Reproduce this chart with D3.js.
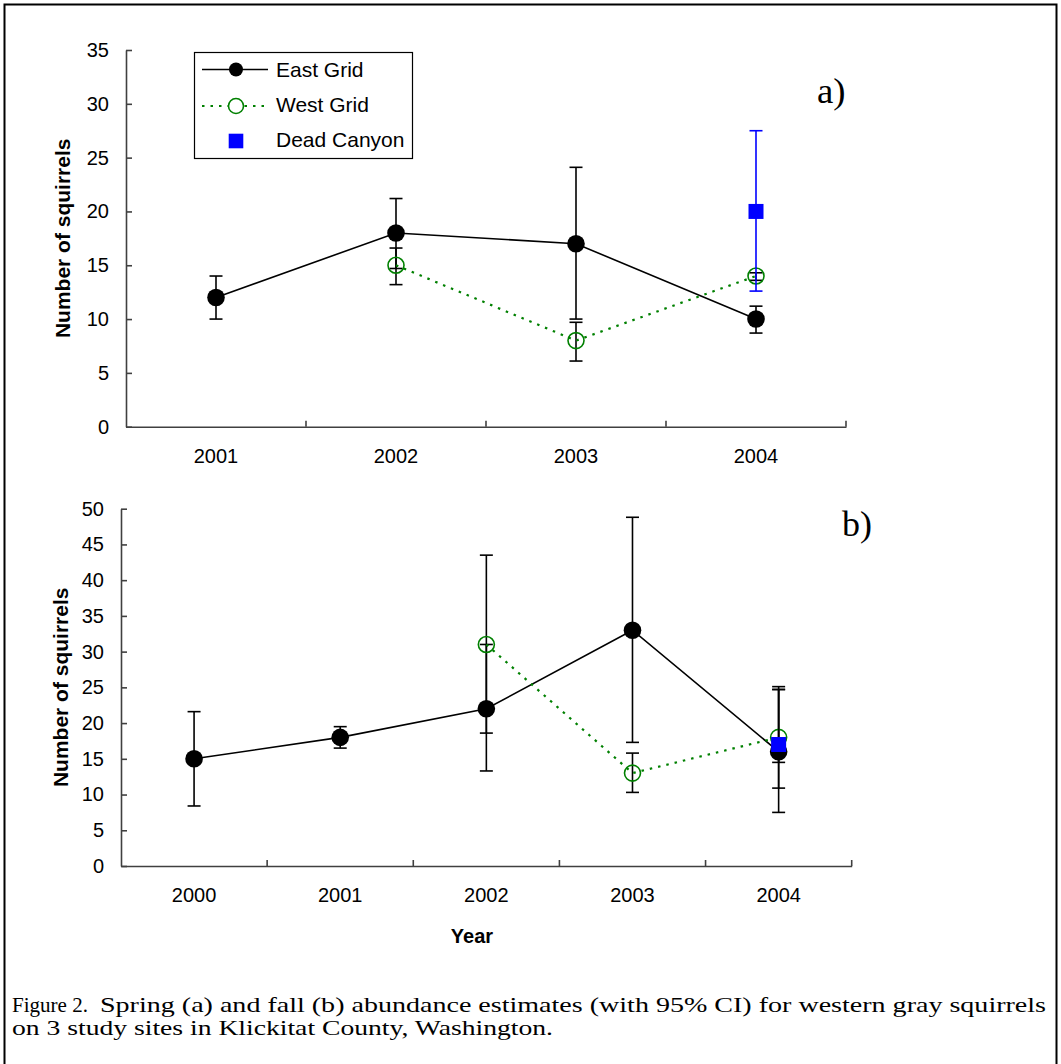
<!DOCTYPE html>
<html>
<head>
<meta charset="utf-8">
<script src="https://cdn.jsdelivr.net/npm/d3@7"></script>
<style>
  html, body { margin: 0; padding: 0; background: #fff; }
  svg { display: block; }
  .serif { font-family: "Liberation Serif", "Times New Roman", Tinos, Times, "Nimbus Roman", serif; }
  .sans { font-family: "Liberation Sans", Arial, Arimo, Helvetica, sans-serif; }
</style>
</head>
<body>
<svg id="fig" width="1061" height="1064"></svg>
<script>
// ---- Spring (panel a) ----
const yearsSpring = ["2001", "2002", "2003", "2004"];
const eastSpring      = [12, 18, 17, 10];
const eastSpringLow   = [10.0, 14.7, 10.0, 8.7];
const eastSpringHigh  = [14.0, 21.2, 24.1, 11.2];
const westSpring      = [null, 15, 8, 14];
const westSpringLow   = [null, 13.2, 6.1, 13.6];
const westSpringHigh  = [null, 16.6, 9.7, 14.3];
const deadSpring      = [null, null, null, 20];
const deadSpringLow   = [null, null, null, 12.6];
const deadSpringHigh  = [null, null, null, 27.5];
const ticksSpring = [0, 5, 10, 15, 20, 25, 30, 35];

// ---- Fall (panel b) ----
const yearsFall = ["2000", "2001", "2002", "2003", "2004"];
const eastFall      = [15, 18, 22, 33, 16];
const eastFallLow   = [8.4, 16.5, 13.3, 17.3, 7.5];
const eastFallHigh  = [21.6, 19.5, 31.0, 48.8, 25.1];
const westFall      = [null, null, 31, 13, 18];
const westFallLow   = [null, null, 18.6, 10.3, 10.9];
const westFallHigh  = [null, null, 43.5, 15.8, 24.7];
const deadFall      = [null, null, null, null, 17];
const deadFallLow   = [null, null, null, null, 14.5];
const deadFallHigh  = [null, null, null, null, 24.7];
const ticksFall = [0, 5, 10, 15, 20, 25, 30, 35, 40, 45, 50];

const seriesNames = ["East Grid", "West Grid", "Dead Canyon"];
const captionLine1a = "Figure 2.";
const captionLine1b = "Spring (a) and fall (b) abundance estimates (with 95% CI) for western gray squirrels";
const captionLine2 = "on 3 study sites in Klickitat County, Washington.";

const GREEN = "#008000";
const BLUE = "#0000ff";
const AXIS = "#404040";

const svg = d3.select("#fig");
svg.append("rect").attr("width", 1061).attr("height", 1064).attr("fill", "#fff");

// outer frame
svg.append("rect")
  .attr("x", 4.5).attr("y", 4.5).attr("width", 1052).attr("height", 1080)
  .attr("fill", "none").attr("stroke", "#000").attr("stroke-width", 2);

function zip(years, vals, lo, hi) {
  return years.map((yr, i) => ({ yr, v: vals[i], lo: lo[i], hi: hi[i] }))
    .filter(d => d.v != null);
}

function drawPanel(cfg) {
  const x = d3.scaleBand().domain(cfg.years).range([cfg.left, cfg.right]);
  const y = d3.scaleLinear().domain([0, cfg.ymax]).range([cfg.bottom, cfg.top]);
  const cx = d => x(d.yr) + x.bandwidth() / 2;
  const g = svg.append("g");

  // y axis, ticks pointing inward
  const ya = g.append("g").attr("transform", `translate(${cfg.left},0)`)
    .call(d3.axisLeft(y).tickValues(cfg.ticks).tickSizeInner(-6).tickSizeOuter(0).tickPadding(17));
  ya.attr("font-family", null).attr("font-size", null).attr("class", "sans");
  ya.selectAll("path, line").attr("stroke", AXIS).attr("stroke-width", 1.6);
  ya.selectAll("text").attr("font-size", 20).attr("fill", "#000");

  // x axis with category labels centred in each band
  const xa = g.append("g").attr("transform", `translate(0,${cfg.bottom})`)
    .call(d3.axisBottom(x).tickSize(0).tickPadding(22));
  xa.attr("font-family", null).attr("font-size", null).attr("class", "sans");
  xa.select("path").attr("stroke", AXIS).attr("stroke-width", 1.6);
  xa.selectAll("text").attr("font-size", 20).attr("fill", "#000");
  // tick marks on band boundaries
  xa.selectAll(".sep").data(cfg.years).join("line")
    .attr("class", "sep")
    .attr("x1", d => x(d) + x.bandwidth()).attr("x2", d => x(d) + x.bandwidth())
    .attr("y1", 0).attr("y2", -6)
    .attr("stroke", AXIS).attr("stroke-width", 1.6);

  // y axis title
  g.append("text").attr("class", "sans")
    .attr("transform", `translate(${cfg.titleX},${(cfg.top + cfg.bottom) / 2}) rotate(-90)`)
    .attr("text-anchor", "middle")
    .attr("font-size", 21).attr("font-weight", "bold")
    .text("Number of squirrels");

  // panel letter
  g.append("text").attr("class", "serif").attr("x", cfg.letterX).attr("y", cfg.letterY)
    .attr("font-size", 36).attr("textLength", cfg.letterW).attr("lengthAdjust", "spacingAndGlyphs")
    .text(cfg.letter);

  const drawErr = (data, color) => {
    const eg = g.append("g").attr("stroke", color).attr("stroke-width", 1.6);
    eg.selectAll(".v").data(data).join("line")
      .attr("x1", cx).attr("x2", cx).attr("y1", d => y(d.lo)).attr("y2", d => y(d.hi));
    ["lo", "hi"].forEach(k => {
      eg.selectAll(".c" + k).data(data).join("line")
        .attr("x1", d => cx(d) - 6.5).attr("x2", d => cx(d) + 6.5)
        .attr("y1", d => y(d[k])).attr("y2", d => y(d[k]));
    });
  };
  const line = d3.line().x(cx).y(d => y(d.v));

  // East Grid
  drawErr(cfg.east, "#000");
  g.append("path").datum(cfg.east).attr("d", line)
    .attr("fill", "none").attr("stroke", "#000").attr("stroke-width", 1.6);
  g.selectAll(".east").data(cfg.east).join("circle")
    .attr("cx", cx).attr("cy", d => y(d.v)).attr("r", 8.8).attr("fill", "#000");

  // West Grid
  drawErr(cfg.west, "#000");
  g.append("path").datum(cfg.west).attr("d", line)
    .attr("fill", "none").attr("stroke", GREEN).attr("stroke-width", 2.2)
    .attr("stroke-dasharray", "2.5,6");
  g.selectAll(".west").data(cfg.west).join("circle")
    .attr("cx", cx).attr("cy", d => y(d.v)).attr("r", 8)
    .attr("fill", "none").attr("stroke", GREEN).attr("stroke-width", 1.6);

  // Dead Canyon
  drawErr(cfg.dead, cfg.deadErrColor);
  g.selectAll(".dead").data(cfg.dead).join("rect")
    .attr("x", d => cx(d) - 7.5).attr("y", d => y(d.v) - 7.5)
    .attr("width", 15).attr("height", 15).attr("fill", BLUE);
}

drawPanel({
  years: yearsSpring, ymax: 35, ticks: ticksSpring,
  left: 126, right: 846, top: 50, bottom: 426.7,
  titleX: 70, letter: "a)", letterX: 817, letterY: 103, letterW: 28.5,
  east: zip(yearsSpring, eastSpring, eastSpringLow, eastSpringHigh),
  west: zip(yearsSpring, westSpring, westSpringLow, westSpringHigh),
  dead: zip(yearsSpring, deadSpring, deadSpringLow, deadSpringHigh),
  deadErrColor: BLUE
});

drawPanel({
  years: yearsFall, ymax: 50, ticks: ticksFall,
  left: 121, right: 851.7, top: 508.7, bottom: 866,
  titleX: 68, letter: "b)", letterX: 842, letterY: 536, letterW: 30,
  east: zip(yearsFall, eastFall, eastFallLow, eastFallHigh),
  west: zip(yearsFall, westFall, westFallLow, westFallHigh),
  dead: zip(yearsFall, deadFall, deadFallLow, deadFallHigh),
  deadErrColor: "#000"
});

// x axis title of panel b
svg.append("text").attr("class", "sans").attr("x", 472).attr("y", 943).attr("text-anchor", "middle")
  .attr("font-size", 20).attr("font-weight", "bold").text("Year");

// legend
const lg = svg.append("g");
lg.append("rect").attr("x", 194.5).attr("y", 52.5).attr("width", 218).attr("height", 106)
  .attr("fill", "#fff").attr("stroke", "#000").attr("stroke-width", 1.2);
const rowsY = [69.5, 106, 141];
const textBase = [76.7, 111.5, 146.7];
lg.append("line").attr("x1", 202).attr("x2", 268).attr("y1", rowsY[0]).attr("y2", rowsY[0])
  .attr("stroke", "#000").attr("stroke-width", 1.6);
lg.append("circle").attr("cx", 236).attr("cy", rowsY[0]).attr("r", 7).attr("fill", "#000");
lg.append("line").attr("x1", 202).attr("x2", 268).attr("y1", rowsY[1]).attr("y2", rowsY[1])
  .attr("stroke", GREEN).attr("stroke-width", 2.2).attr("stroke-dasharray", "2.5,6");
lg.append("circle").attr("cx", 236).attr("cy", rowsY[1]).attr("r", 7.5)
  .attr("fill", "#fff").attr("stroke", GREEN).attr("stroke-width", 1.6);
lg.append("rect").attr("x", 236 - 7.3).attr("y", rowsY[2] - 7.3).attr("width", 14.6).attr("height", 14.6)
  .attr("fill", BLUE);
lg.selectAll(".lt").data(seriesNames).join("text").attr("class", "sans")
  .attr("x", 276).attr("y", (d, i) => textBase[i])
  .attr("font-size", 21).text(d => d);

// caption
const cap = svg.append("g").attr("class", "serif").attr("font-size", 22).attr("fill", "#000");
cap.append("text").attr("x", 12).attr("y", 1012).attr("textLength", 76)
  .attr("lengthAdjust", "spacingAndGlyphs").text(captionLine1a);
cap.append("text").attr("x", 100).attr("y", 1012).attr("textLength", 946)
  .attr("lengthAdjust", "spacingAndGlyphs").text(captionLine1b);
cap.append("text").attr("x", 12).attr("y", 1035).attr("textLength", 541)
  .attr("lengthAdjust", "spacingAndGlyphs").text(captionLine2);
</script>
</body>
</html>
